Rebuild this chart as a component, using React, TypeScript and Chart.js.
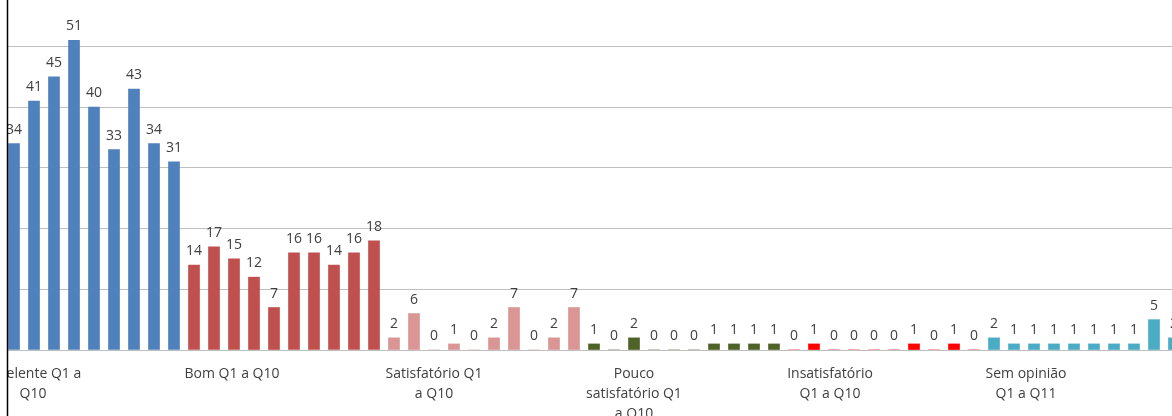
import React, { useEffect, useRef } from 'react';
import { Chart, registerables } from 'chart.js';

Chart.register(...registerables);

// Category (group) labels, one per group, split into lines as in the reference
const categories: string[][] = [
  ['Excelente Q1 a', 'Q10'],
  ['Bom Q1 a Q10'],
  ['Satisfatório Q1', 'a Q10'],
  ['Pouco', 'satisfatório Q1', 'a Q10'],
  ['Insatisfatório', 'Q1 a Q10'],
  ['Sem opinião', 'Q1 a Q11'],
];

// Values per group (Q1..Q10 / Q1..Q11); null = not visible in the reference crop
const excelente = [null, 34, 41, 45, 51, 40, 33, 43, 34, 31];
const bom = [14, 17, 15, 12, 7, 16, 16, 14, 16, 18];
const satisfatorio = [2, 6, 0, 1, 0, 2, 7, 0, 2, 7];
const poucoSatisfatorio = [1, 0, 2, 0, 0, 0, 1, 1, 1, 1];
const insatisfatorio = [0, 1, 0, 0, 0, 0, 1, 0, 1, 0];
const semOpiniao = [2, 1, 1, 1, 1, 1, 1, 1, 5, 2, null];

const groupValues = [excelente, bom, satisfatorio, poucoSatisfatorio, insatisfatorio, semOpiniao];
const groupColors = ['#4F81BD', '#C0504D', '#D99694', '#4F6228', '#FF0000', '#4BACC6'];
const groupStart = [0, 10, 20, 30, 40, 50];
const categoryTickAt = [1.95, 11.9, 22, 32, 41.8, 51.6];
const yGridValues = [0, 10, 20, 30, 40, 50];

const TEXT = '#404040';
const FONT = '"Open Sans", "Noto Sans", sans-serif';

const overlayPlugin = {
  id: 'overlay',
  afterDatasetsDraw(chart: any) {
    const ctx = chart.ctx;
    ctx.save();
    ctx.font = `14px ${FONT}`;
    ctx.fillStyle = TEXT;
    ctx.textAlign = 'center';
    ctx.textBaseline = 'alphabetic';
    chart.data.datasets.forEach((ds: any, di: number) => {
      const meta = chart.getDatasetMeta(di);
      meta.data.forEach((el: any, i: number) => {
        const v = ds.data[i].y;
        if (v === null || v === undefined) return;
        ctx.fillText(String(v), el.x, el.y - 10);
      });
    });
    ctx.restore();
  },
  afterDraw(chart: any) {
    const ctx = chart.ctx;
    ctx.save();
    ctx.fillStyle = '#ffffff';
    ctx.fillRect(0, 0, 7, chart.height);
    ctx.strokeStyle = '#000000';
    ctx.lineWidth = 1.5;
    ctx.beginPath();
    ctx.moveTo(7.5, 0);
    ctx.lineTo(7.5, chart.height);
    ctx.stroke();
    ctx.restore();
  },
};

export default function App() {
  const canvasRef = useRef<HTMLCanvasElement | null>(null);

  useEffect(() => {
    if (!canvasRef.current) return;
    Chart.defaults.font.family = FONT;
    const datasets = groupValues.map((vals, g) => ({
      label: categories[g].join(' '),
      data: vals.map((v, i) => ({ x: groupStart[g] + i, y: v })),
      backgroundColor: groupColors[g],
      borderWidth: 0,
      barThickness: 11,
      grouped: false,
    }));

    const chart = new Chart(canvasRef.current, {
      type: 'bar',
      data: { datasets: datasets as any },
      options: {
        animation: false,
        responsive: true,
        maintainAspectRatio: false,
        layout: { padding: { left: 8, right: 0, top: 0, bottom: 0 } },
        plugins: {
          legend: { display: false },
          tooltip: { enabled: false },
        },
        scales: {
          x: {
            type: 'linear',
            min: 0.7,
            max: 58.9,
            offset: false,
            grid: { display: false, drawTicks: false },
            border: { display: false },
            afterBuildTicks: (scale: any) => {
              scale.ticks = categoryTickAt.map((v) => ({ value: v }));
            },
            afterFit: (scale: any) => {
              scale.height = 66;
              scale.paddingLeft = 0;
              scale.paddingRight = 0;
            },
            ticks: {
              autoSkip: false,
              maxRotation: 0,
              minRotation: 0,
              padding: 14,
              color: TEXT,
              font: { size: 14, lineHeight: '20px' as any },
              callback: (_v: any, index: number) => categories[index],
            },
          },
          y: {
            type: 'linear',
            min: 0,
            max: 57.66,
            grid: { color: '#BFBFBF', lineWidth: 1, drawTicks: false },
            border: { display: false },
            afterBuildTicks: (scale: any) => {
              scale.ticks = yGridValues.map((v) => ({ value: v }));
            },
            afterFit: (scale: any) => {
              scale.paddingTop = 0;
              scale.paddingBottom = 0;
            },
            ticks: { display: false },
          },
        },
      },
      plugins: [overlayPlugin],
    });
    return () => chart.destroy();
  }, []);

  return (
    <div style={{ position: 'fixed', left: 0, top: 0, width: 1172, height: 416, overflow: 'hidden', background: '#fff' }}>
      <canvas ref={canvasRef} />
    </div>
  );
}
